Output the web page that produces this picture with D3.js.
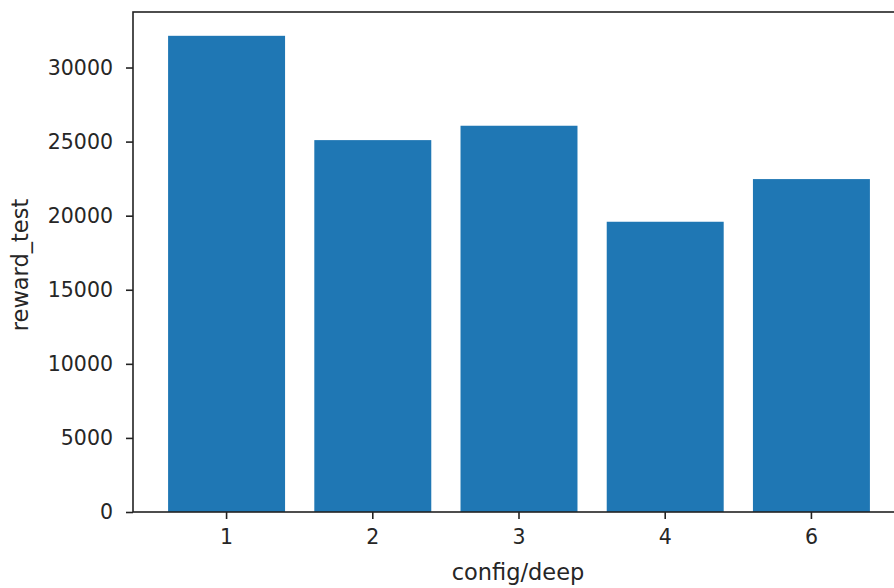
<!DOCTYPE html>
<html>
<head>
<meta charset="utf-8">
<script src="https://cdn.jsdelivr.net/npm/d3@7"></script>
<style>
  html, body { margin: 0; padding: 0; background: #fff; }
  svg { display: block; }
  text { font-family: "DejaVu Sans", sans-serif; fill: #262626; }
</style>
</head>
<body>
<svg id="chart" width="894" height="588"></svg>
<script>
// Test reward per depth configuration
const categories = ["1", "2", "3", "4", "6"];
const rewardTest = [32140, 25100, 26070, 19590, 22470];
const yTicks = [0, 5000, 10000, 15000, 20000, 25000, 30000];

const margin = { left: 133, top: 12 };
const plotW = 772, plotH = 500;
const tickFontPx = 20.5;
const labelFontPx = 22.5;

const svg = d3.select("#chart");
const g = svg.append("g").attr("transform", `translate(${margin.left},${margin.top})`);

const x = d3.scaleBand()
  .domain(categories)
  .range([0, plotW])
  .paddingInner(0.2)
  .paddingOuter(0.24);

const yMax = d3.max(rewardTest) * 1.05;
const y = d3.scaleLinear().domain([0, yMax]).range([plotH, 0]);

// bars
g.selectAll("rect.bar")
  .data(categories.map((c, i) => ({ c, v: rewardTest[i] })))
  .join("rect")
  .attr("class", "bar")
  .attr("x", d => x(d.c))
  .attr("width", x.bandwidth())
  .attr("y", d => y(d.v))
  .attr("height", d => plotH - y(d.v))
  .attr("fill", "#1f77b4");

// axes
const xAxis = d3.axisBottom(x).tickSize(7).tickPadding(10);
const yAxis = d3.axisLeft(y).tickValues(yTicks).tickFormat(d3.format("d")).tickSize(7).tickPadding(13);

const gx = g.append("g").attr("transform", `translate(0,${plotH})`).call(xAxis);
const gy = g.append("g").call(yAxis);

[gx, gy].forEach(a => {
  a.select(".domain").remove();
  a.selectAll(".tick line").attr("stroke", "#222").attr("stroke-width", 1.6);
  a.selectAll(".tick text")
    .attr("fill", "#262626")
    .style("font-family", "'DejaVu Sans', sans-serif")
    .style("font-size", tickFontPx + "px");
});

// frame (spines)
g.append("rect")
  .attr("x", 0).attr("y", 0)
  .attr("width", plotW).attr("height", plotH)
  .attr("fill", "none")
  .attr("stroke", "#222")
  .attr("stroke-width", 1.6);

// axis titles
svg.append("text")
  .attr("x", margin.left + plotW / 2 - 1)
  .attr("y", 580)
  .attr("text-anchor", "middle")
  .style("font-size", labelFontPx + "px")
  .text("config/deep");

svg.append("text")
  .attr("transform", `translate(28,${margin.top + plotH / 2 + 3}) rotate(-90)`)
  .attr("text-anchor", "middle")
  .style("font-size", labelFontPx + "px")
  .text("reward_test");
</script>
</body>
</html>
